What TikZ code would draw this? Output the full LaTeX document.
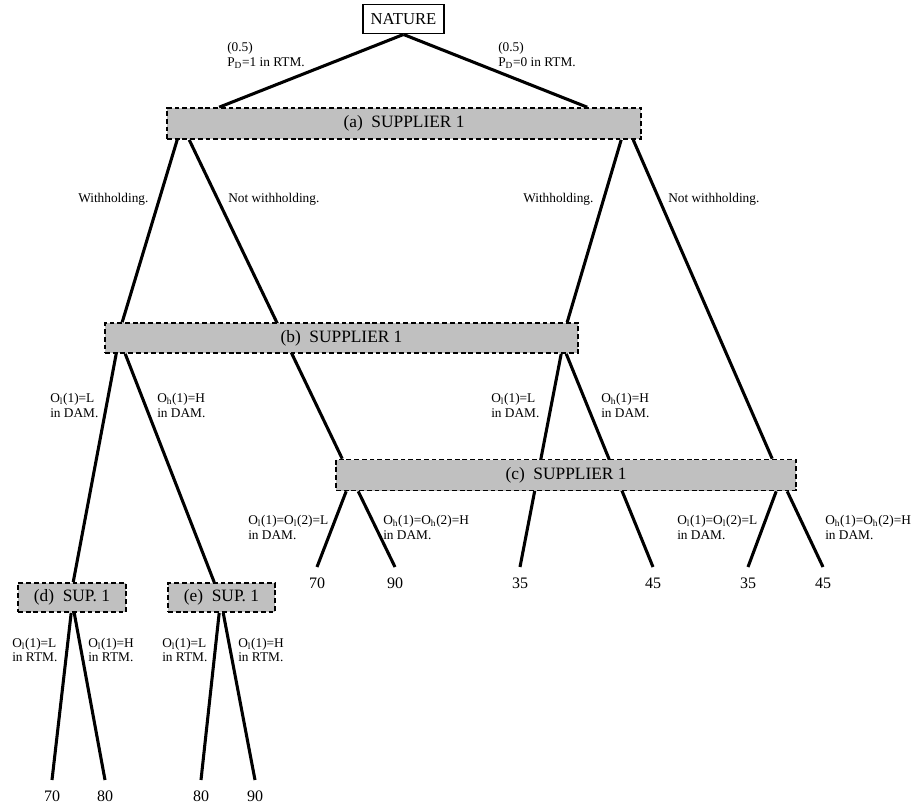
\documentclass[tikz,border=0pt]{standalone}
\usepackage{fontspec}
\setmainfont{Liberation Serif}
\usetikzlibrary{calc,backgrounds}
\definecolor{boxgray}{HTML}{C0C0C0}
\begin{document}
\begin{tikzpicture}[x=0.75pt,y=-0.75pt,
  sbox/.style={draw, fill=boxgray, line width=1.2pt, dash pattern=on 3.6pt off 2.2pt,
    inner sep=0pt, font=\fontsize{13}{15}\selectfont},
  natbox/.style={draw, fill=white, line width=1.2pt, inner sep=0pt,
    minimum width=61pt, minimum height=22pt, font=\fontsize{12.5}{15}\selectfont},
  br/.style={line width=2.3pt},
  lbl/.style={anchor=west, inner sep=0pt, align=left, font=\fontsize{10}{11}\selectfont},
  leaf/.style={anchor=north, inner xsep=0pt, inner ysep=8pt, font=\fontsize{12}{14}\selectfont}]
\useasboundingbox (0,0) rectangle (913,809);

% decision nodes
\node[natbox] (nat) at (403.5,19) {NATURE};
\node[sbox, minimum width=355.5pt, minimum height=23.25pt] (a) at (404,123.5) {(a)\ \ SUPPLIER 1};
\node[sbox, minimum width=354.75pt, minimum height=22.5pt] (b) at (341.5,338) {(b)\ \ SUPPLIER 1};
\node[sbox, minimum width=345pt, minimum height=23.25pt] (c) at (566,475) {(c)\ \ SUPPLIER 1};
\node[sbox, minimum width=81pt, minimum height=21.75pt] (d) at (72,597.5) {(d)\ \ SUP. 1};
\node[sbox, minimum width=80.25pt, minimum height=21.75pt] (e) at (221.5,597.5) {(e)\ \ SUP. 1};

% leaves
\node[leaf] (l1) at (317,567) {70};
\node[leaf] (l2) at (395,567) {90};
\node[leaf] (l3) at (520,567) {35};
\node[leaf] (l4) at (653,567) {45};
\node[leaf] (l5) at (748,567) {35};
\node[leaf] (l6) at (823,567) {45};
\node[leaf] (l7) at (52,780) {70};
\node[leaf] (l8) at (105,780) {80};
\node[leaf] (l9) at (201,780) {80};
\node[leaf] (l10) at (255,780) {90};

% branches
\begin{scope}[on background layer]
\draw[br] (nat.south) -- ($(a.north west)+(53,0)$);
\draw[br] (nat.south) -- ($(a.north west)+(421,0)$);
\draw[br] ($(a.south west)+(11,0)$) -- ($(b.north west)+(18,0)$);
\draw[br] ($(a.south west)+(23,0)$) -- ($(c.north west)+(7,0)$);
\draw[br] ($(a.south west)+(455,0)$) -- ($(b.north west)+(463,0)$);
\draw[br] ($(a.south west)+(467,0)$) -- ($(c.north west)+(437,0)$);
\draw[br] ($(b.south west)+(12,0)$) -- ($(d.north west)+(56,0)$);
\draw[br] ($(b.south west)+(21,0)$) -- ($(e.north west)+(47,0)$);
\draw[br] ($(b.south west)+(457,0)$) -- (l3.north);
\draw[br] ($(b.south west)+(462,0)$) -- (l4.north);
\draw[br] ($(c.south west)+(11,0)$) -- (l1.north);
\draw[br] ($(c.south west)+(23,0)$) -- (l2.north);
\draw[br] ($(c.south west)+(441,0)$) -- (l5.north);
\draw[br] ($(c.south west)+(452,0)$) -- (l6.north);
\draw[br] ($(d.south west)+(54,0)$) -- (l7.north);
\draw[br] ($(d.south west)+(57,0)$) -- (l8.north);
\draw[br] ($(e.south west)+(52,0)$) -- (l9.north);
\draw[br] ($(e.south west)+(56,0)$) -- (l10.north);
\end{scope}

% labels
\node[lbl] (t1) at (227,55.5) {(0.5)\\P\textsubscript{D}=1 in RTM.};
\node[lbl] (t2) at (498,55.5) {(0.5)\\P\textsubscript{D}=0 in RTM.};
\node[lbl] (t3) at (78,199) {Withholding.};
\node[lbl] (t4) at (228,199) {Not withholding.};
\node[lbl] (t5) at (523,199) {Withholding.};
\node[lbl] (t6) at (668,199) {Not withholding.};
\node[lbl] (t7) at (50,405.5) {O\textsubscript{l}(1)=L\\in DAM.};
\node[lbl] (t8) at (157,405.5) {O\textsubscript{h}(1)=H\\in DAM.};
\node[lbl] (t9) at (491,405.5) {O\textsubscript{l}(1)=L\\in DAM.};
\node[lbl] (t10) at (601,405.5) {O\textsubscript{h}(1)=H\\in DAM.};
\node[lbl] (t11) at (248,527.5) {O\textsubscript{l}(1)=O\textsubscript{l}(2)=L\\in DAM.};
\node[lbl] (t12) at (383,527.5) {O\textsubscript{h}(1)=O\textsubscript{h}(2)=H\\in DAM.};
\node[lbl] (t13) at (677,527.5) {O\textsubscript{l}(1)=O\textsubscript{l}(2)=L\\in DAM.};
\node[lbl] (t14) at (825,527.5) {O\textsubscript{h}(1)=O\textsubscript{h}(2)=H\\in DAM.};
\node[lbl] (t15) at (12,650) {O\textsubscript{l}(1)=L\\in RTM.};
\node[lbl] (t16) at (88,650) {O\textsubscript{l}(1)=H\\in RTM.};
\node[lbl] (t17) at (162,650) {O\textsubscript{l}(1)=L\\in RTM.};
\node[lbl] (t18) at (238,650) {O\textsubscript{l}(1)=H\\in RTM.};
\end{tikzpicture}
\end{document}
